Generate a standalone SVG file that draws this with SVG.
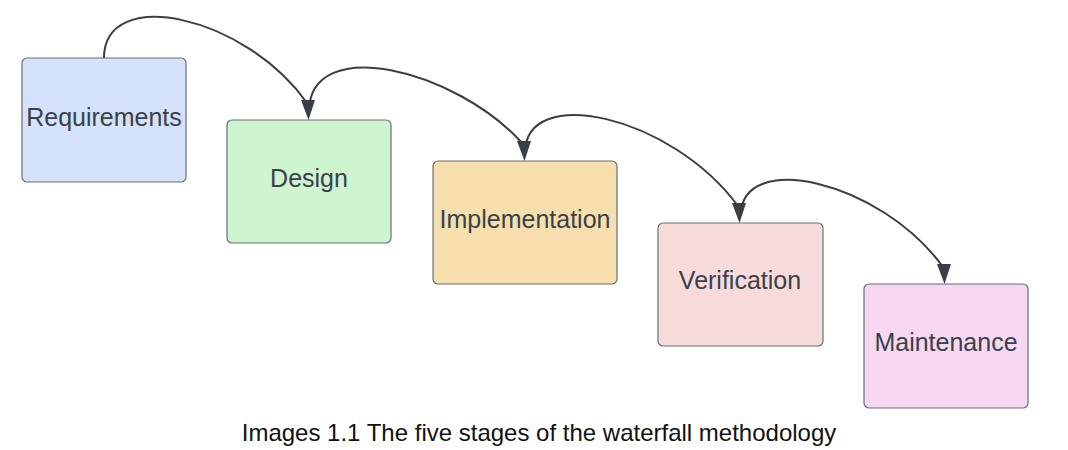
<svg xmlns="http://www.w3.org/2000/svg" width="1068" height="450" viewBox="0 0 1068 450">
<defs>
<style>
.box{stroke:#6b6f76;stroke-width:1.2}
.lbl{font-family:"Liberation Sans",Arial,sans-serif;font-size:25px;fill:#3a414a;text-anchor:middle}
.conn{fill:none;stroke:#3a3f47;stroke-width:2}
.head{fill:#3a3f47}
.cap{font-family:"Liberation Sans",Arial,sans-serif;font-size:24px;fill:#111;text-anchor:middle}
</style>
</defs>
<rect width="1068" height="450" fill="#fff"/>
<g id="connectors">
<path class="conn" d="M104,58 C104,-15 245,15 307,103"/>
<path class="head" d="M301,100 L315,100 L308.5,120 Z"/>
<path class="conn" d="M309,112 C309,33 456,69 523,144"/>
<path class="head" d="M517,141 L531,141 L524.5,161 Z"/>
<path class="conn" d="M525,153 C525,83 671,115 738,206"/>
<path class="head" d="M732,203 L746,203 L739.5,223 Z"/>
<path class="conn" d="M741,215 C741,150 880,180 943,267"/>
<path class="head" d="M937,264 L951,264 L944.5,284 Z"/>
</g>
<g id="requirements">
<rect class="box" x="22" y="58" width="164" height="124" rx="5" fill="#d4e3fb"/>
<text class="lbl" x="104" y="126">Requirements</text>
</g>
<g id="design">
<rect class="box" x="227" y="120" width="164" height="123" rx="5" fill="#cff5d0"/>
<text class="lbl" x="309" y="187">Design</text>
</g>
<g id="implementation">
<rect class="box" x="433" y="161" width="184" height="123" rx="5" fill="#f7dfad"/>
<text class="lbl" x="525" y="228">Implementation</text>
</g>
<g id="verification">
<rect class="box" x="658" y="223" width="165" height="123" rx="5" fill="#f7dbdb"/>
<text class="lbl" x="740" y="289">Verification</text>
</g>
<g id="maintenance">
<rect class="box" x="864" y="284" width="164" height="124" rx="5" fill="#f7d7f2"/>
<text class="lbl" x="946" y="351">Maintenance</text>
</g>
<text class="cap" x="539" y="441">Images 1.1 The five stages of the waterfall methodology</text>
</svg>
